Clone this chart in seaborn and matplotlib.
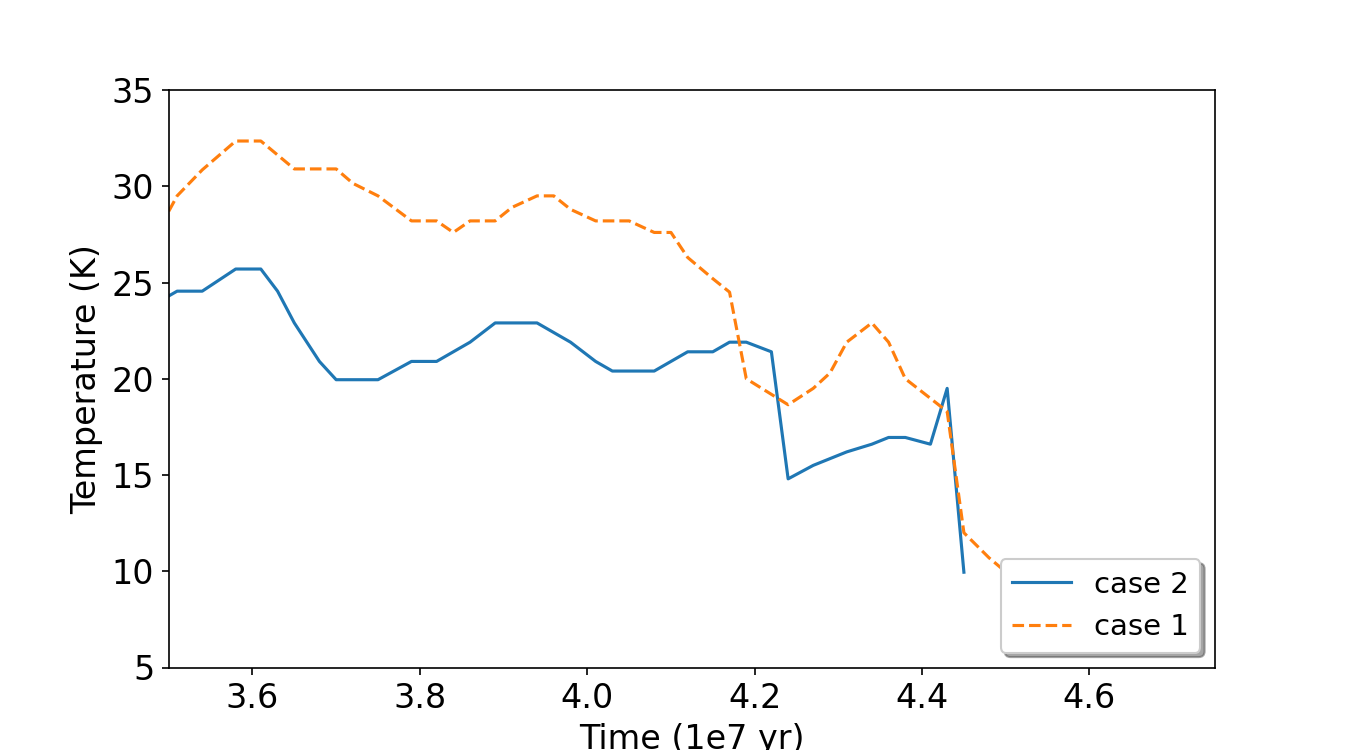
import pandas as pd
import seaborn as sns
import matplotlib.pyplot as plt

# case 2 (solid blue)
time2 = [3.50, 3.51, 3.54, 3.58, 3.61, 3.63, 3.65, 3.68, 3.70, 3.75, 3.79, 3.82,
         3.86, 3.89, 3.94, 3.98, 4.01, 4.03, 4.08, 4.12, 4.15, 4.17, 4.19, 4.22,
         4.24, 4.27, 4.31, 4.34, 4.36, 4.38, 4.41, 4.43, 4.45]
temp2 = [24.3, 24.55, 24.55, 25.7, 25.7, 24.55, 22.9, 20.9, 19.95, 19.95, 20.9, 20.9,
         21.9, 22.9, 22.9, 21.9, 20.9, 20.4, 20.4, 21.4, 21.4, 21.9, 21.9, 21.4,
         14.8, 15.5, 16.2, 16.6, 16.95, 16.95, 16.6, 19.5, 9.95]

# case 1 (dashed orange)
time1 = [3.50, 3.51, 3.54, 3.58, 3.61, 3.65, 3.70, 3.72, 3.75, 3.79, 3.82, 3.84,
         3.86, 3.89, 3.91, 3.94, 3.96, 3.98, 4.01, 4.05, 4.08, 4.10, 4.12, 4.15,
         4.17, 4.19, 4.24, 4.27, 4.29, 4.31, 4.34, 4.36, 4.38, 4.43, 4.45, 4.48, 4.51]
temp1 = [28.7, 29.5, 30.85, 32.35, 32.35, 30.9, 30.9, 30.15, 29.5, 28.2, 28.2, 27.6,
         28.2, 28.2, 28.9, 29.5, 29.5, 28.8, 28.2, 28.2, 27.6, 27.6, 26.3, 25.2,
         24.5, 20.0, 18.65, 19.5, 20.3, 21.9, 22.9, 21.9, 20.0, 18.3, 12.0, 10.7, 9.6]

df2 = pd.DataFrame({'time': time2, 'temp': temp2})
df1 = pd.DataFrame({'time': time1, 'temp': temp1})

fig, ax = plt.subplots(figsize=(9, 5), dpi=150)
sns.lineplot(data=df2, x='time', y='temp', ax=ax, color='#1f77b4', lw=1.5,
             sort=False, estimator=None, label='case 2')
sns.lineplot(data=df1, x='time', y='temp', ax=ax, color='#ff7f0e', lw=1.5, ls='--',
             sort=False, estimator=None, label='case 1')

ax.set_xlim(3.5, 4.75)
ax.set_ylim(5, 35)
ax.set_xticks([3.6, 3.8, 4.0, 4.2, 4.4, 4.6])
ax.set_yticks([5, 10, 15, 20, 25, 30, 35])
ax.tick_params(labelsize=16)
ax.set_xlabel('Time (1e7 yr)', fontsize=16)
ax.set_ylabel('Temperature (K)', fontsize=16)
ax.legend(loc='lower right', fontsize=14, shadow=True, framealpha=1)

plt.savefig('out.png', dpi=150)
